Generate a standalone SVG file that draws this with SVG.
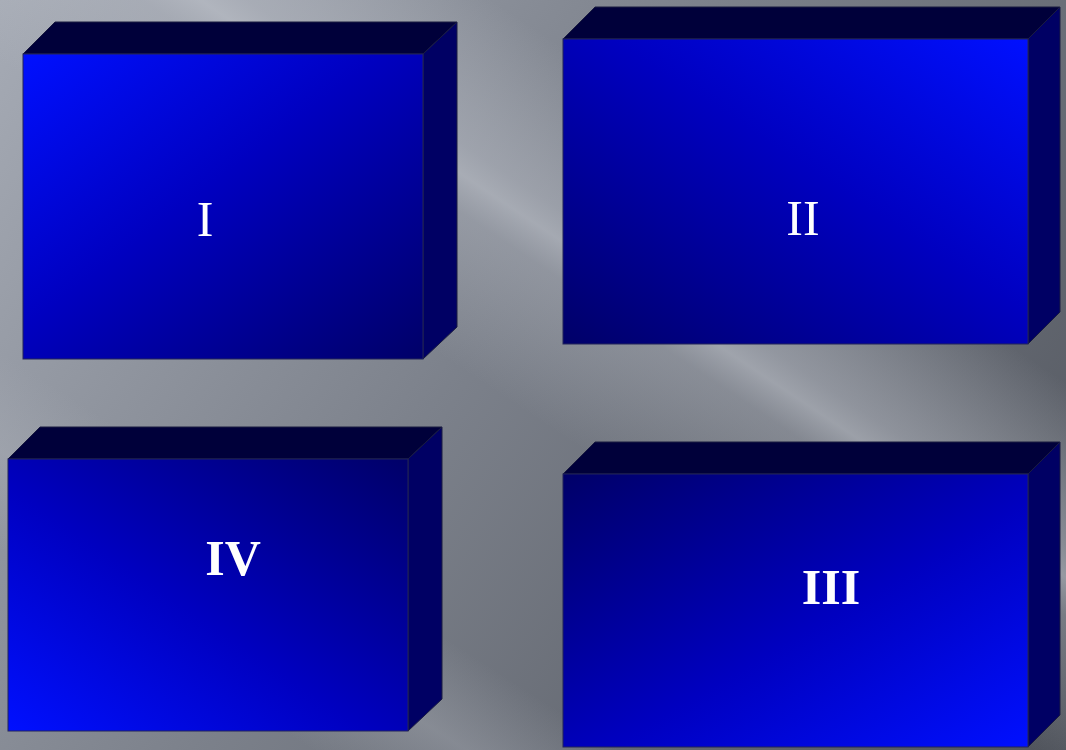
<svg xmlns="http://www.w3.org/2000/svg" width="1066" height="750" viewBox="0 0 1066 750">
<defs>
<linearGradient id="bg" gradientUnits="userSpaceOnUse" x1="0" y1="0" x2="1066" y2="750">
<stop offset="0" stop-color="#a6abb5"/>
<stop offset="0.45" stop-color="#7c818b"/>
<stop offset="1" stop-color="#4f535b"/>
</linearGradient>
<linearGradient id="streak" gradientUnits="userSpaceOnUse" x1="590" y1="65" x2="410" y2="335">
<stop offset="0" stop-color="#c0c4cc" stop-opacity="0"/>
<stop offset="0.42" stop-color="#b8bcc5" stop-opacity="0.5"/>
<stop offset="0.5" stop-color="#c0c4cc" stop-opacity="0.6"/>
<stop offset="0.6" stop-color="#b8bcc5" stop-opacity="0.35"/>
<stop offset="1" stop-color="#c0c4cc" stop-opacity="0"/>
</linearGradient>
<linearGradient id="streak2" gradientUnits="userSpaceOnUse" x1="200" y1="480" x2="110" y2="620">
<stop offset="0" stop-color="#b0b4bc" stop-opacity="0"/>
<stop offset="0.5" stop-color="#b0b4bc" stop-opacity="0.35"/>
<stop offset="1" stop-color="#b0b4bc" stop-opacity="0"/>
</linearGradient>
<linearGradient id="g1" x1="0" y1="0" x2="1" y2="1">
<stop offset="0" stop-color="#0010ff"/>
<stop offset="0.45" stop-color="#0000c0"/>
<stop offset="1" stop-color="#000068"/>
</linearGradient>
<linearGradient id="g2" x1="1" y1="0" x2="0" y2="1">
<stop offset="0" stop-color="#0010ff"/>
<stop offset="0.45" stop-color="#0000c0"/>
<stop offset="1" stop-color="#000068"/>
</linearGradient>
<linearGradient id="g4" x1="0" y1="1" x2="1" y2="0">
<stop offset="0" stop-color="#0010ff"/>
<stop offset="0.45" stop-color="#0000c0"/>
<stop offset="1" stop-color="#000068"/>
</linearGradient>
<linearGradient id="g3" x1="1" y1="1" x2="0" y2="0">
<stop offset="0" stop-color="#0010ff"/>
<stop offset="0.45" stop-color="#0000c0"/>
<stop offset="1" stop-color="#000068"/>
</linearGradient>
</defs>
<style>
.top{fill:#00003a;stroke:#1a1c40;stroke-width:1}
.side{fill:#000064;stroke:#1a1c40;stroke-width:1}
.front{stroke:#22245a;stroke-width:1}
.lbl{font-family:"Liberation Serif","DejaVu Serif",serif;font-size:50px;fill:#ffffff;text-anchor:middle}
.b{font-weight:bold}
</style>
<rect width="1066" height="750" fill="url(#bg)"/>
<rect width="1066" height="750" fill="url(#streak)"/>
<rect width="1066" height="750" fill="url(#streak2)"/>
<g id="box1">
<polygon class="top" points="23,54 55,22 457,22 423,54"/>
<polygon class="side" points="423,54 457,22 457,327 423,359"/>
<rect class="front" x="23" y="54" width="400" height="305" fill="url(#g1)"/>
<text class="lbl" x="205" y="236">I</text>
</g>
<g id="box2">
<polygon class="top" points="563,39 595,7 1060,7 1028,39"/>
<polygon class="side" points="1028,39 1060,7 1060,312 1028,344"/>
<rect class="front" x="563" y="39" width="465" height="305" fill="url(#g2)"/>
<text class="lbl" x="803" y="235">II</text>
</g>
<g id="box4">
<polygon class="top" points="8,459 40,427 442,427 408,459"/>
<polygon class="side" points="408,459 442,427 442,699 408,731"/>
<rect class="front" x="8" y="459" width="400" height="272" fill="url(#g4)"/>
<text class="lbl b" x="233" y="575">IV</text>
</g>
<g id="box3">
<polygon class="top" points="563,474 595,442 1060,442 1028,474"/>
<polygon class="side" points="1028,474 1060,442 1060,715 1028,747"/>
<rect class="front" x="563" y="474" width="465" height="273" fill="url(#g3)"/>
<text class="lbl b" x="831" y="604">III</text>
</g>
</svg>
